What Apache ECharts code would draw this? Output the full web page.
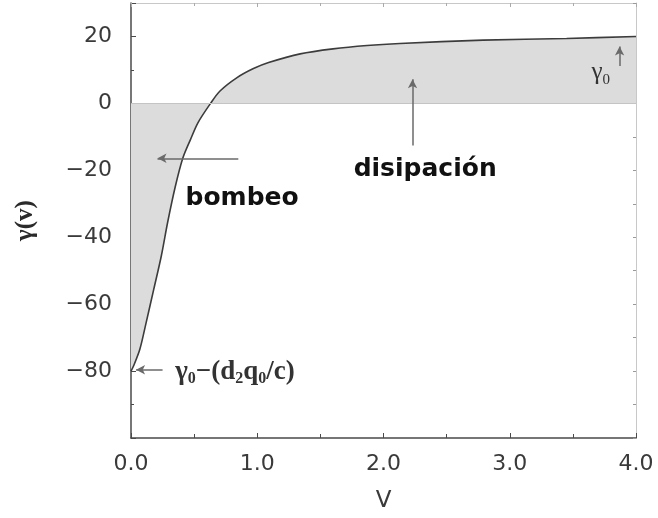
<!DOCTYPE html>
<html>
<head>
<meta charset="utf-8">
<script src="https://cdn.jsdelivr.net/npm/echarts@6/dist/echarts.min.js"></script>
<style>
  html, body { margin: 0; padding: 0; background: #fff; }
  #chart { width: 658px; height: 518px; }
</style>
</head>
<body>
<div id="chart"></div>
<script>
// gamma(v) curve: pumping region (negative) and dissipation region (positive)
const vValues = [0, 0.02, 0.07, 0.12, 0.18, 0.24, 0.29, 0.35, 0.41, 0.47, 0.53, 0.63, 0.705,
                 0.84, 0.97, 1.09, 1.34, 1.6, 1.87, 2.13, 2.79, 3.45, 4.0];
const gammaValues = [-80, -78.5, -73.5, -65.5, -55.6, -45.6, -35.6, -25.0, -16.4, -10.9, -5.8, 0, 3.7,
                     7.7, 10.4, 12.2, 14.8, 16.3, 17.3, 17.9, 18.9, 19.4, 20];
const xTicks = [0, 1, 2, 3, 4];
const yTicks = [-80, -60, -40, -20, 0, 20];

// arrow annotations: [start, end] in data units
const arrowBombeo = [[0.85, -16.4], [0.21, -16.4]];
const arrowDisipacion = [[2.23, -12.6], [2.23, 7.2]];
const arrowGamma0 = [[3.87, 11.2], [3.87, 17.0]];
const arrowIntercept = [[0.25, -79.6], [0.04, -79.6]];

const curve = vValues.map((v, i) => [v, gammaValues[i]]);

const chart = echarts.init(document.getElementById('chart'));

const tickFont = { fontFamily: 'DejaVu Sans', fontSize: 22, color: '#3a3a3a' };

function arrowPair(p) {
  return [{ coord: p[0] }, { coord: p[1] }];
}

chart.setOption({
  animation: false,
  backgroundColor: '#ffffff',
  grid: { left: 131, right: 22, top: 3, bottom: 80, containLabel: false, outerBoundsMode: 'none' },
  xAxis: [
    {
      type: 'value', min: 0, max: 4, interval: 1,
      name: 'V', nameLocation: 'middle', nameGap: 52,
      nameTextStyle: { fontFamily: 'DejaVu Sans', fontSize: 23, color: '#3a3a3a' },
      axisLine: { show: true, onZero: false, lineStyle: { color: '#4a4a4a', width: 1.5 } },
      axisTick: { show: true, inside: true, length: 5, lineStyle: { color: '#4a4a4a' } },
      minorTick: { show: true, splitNumber: 2, length: 4, lineStyle: { color: '#4a4a4a' } },
      splitLine: { show: false },
      axisLabel: Object.assign({ margin: 15, formatter: v => xTicks.includes(v) ? v.toFixed(1) : '' }, tickFont)
    },
    {
      type: 'value', min: 0, max: 4, interval: 1, position: 'top',
      axisLine: { show: true, onZero: false, lineStyle: { color: '#c8c8c8', width: 1 } },
      axisTick: { show: true, inside: true, length: 4, lineStyle: { color: '#aaaaaa' } },
      minorTick: { show: true, splitNumber: 2, length: 3, lineStyle: { color: '#aaaaaa' } },
      splitLine: { show: false },
      axisLabel: { show: false }
    }
  ],
  yAxis: [
    {
      type: 'value', min: -100, max: 30, interval: 20,
      name: 'γ(v)', nameLocation: 'middle', nameGap: 93, nameRotate: 90,
      nameTextStyle: { fontFamily: 'Liberation Serif', fontWeight: 'bold', fontSize: 25, color: '#2a2a2a' },
      axisLine: { show: true, onZero: false, lineStyle: { color: '#4a4a4a', width: 1.5 } },
      axisTick: { show: true, inside: true, length: 5, lineStyle: { color: '#4a4a4a' } },
      minorTick: { show: true, splitNumber: 2, length: 3, lineStyle: { color: '#4a4a4a' } },
      splitLine: { show: false },
      axisLabel: Object.assign({
        margin: 19,
        formatter: v => yTicks.includes(v) ? (v < 0 ? '\u2212' + Math.abs(v) : String(v)) : ''
      }, tickFont)
    },
    {
      type: 'value', min: -100, max: 30, interval: 20, position: 'right',
      axisLine: { show: true, onZero: false, lineStyle: { color: '#c8c8c8', width: 1 } },
      axisTick: { show: true, inside: true, length: 3, lineStyle: { color: '#999999' } },
      minorTick: { show: true, splitNumber: 2, length: 3, lineStyle: { color: '#999999' } },
      splitLine: { show: false },
      axisLabel: { show: false }
    }
  ],
  series: [
    {
      type: 'line',
      data: curve,
      smooth: 0.3,
      showSymbol: false,
      lineStyle: { color: '#3c3c3c', width: 1.6 },
      areaStyle: { color: '#dcdcdd', opacity: 1, origin: 0 },
      z: 3,
      markLine: {
        silent: true,
        symbol: ['none', 'none'],
        label: { show: false },
        lineStyle: { color: '#c4c4c4', width: 1, type: 'solid' },
        data: [{ yAxis: 0 }]
      }
    },
    {
      type: 'line',
      data: [],
      markLine: {
        silent: true,
        symbol: ['none', 'arrow'],
        symbolSize: [7, 9],
        label: { show: false },
        lineStyle: { color: '#6a6a6a', width: 1.5, type: 'solid' },
        data: [arrowBombeo, arrowDisipacion, arrowGamma0, arrowIntercept].map(arrowPair)
      },
      z: 4
    }
  ]
});

// text annotations anchored in data coordinates
function px(pt) { return chart.convertToPixel({ gridIndex: 0 }, pt); }
const pB = px([0.88, -28.4]);
const pD = px([2.33, -19.7]);
const pG = px([3.72, 9.3]);
const pI = px([0.35, -80]);

chart.setOption({
  graphic: [
    { type: 'text', x: pB[0], y: pB[1], z: 10,
      style: { text: 'bombeo', fontFamily: 'DejaVu Sans', fontWeight: 'bold', fontSize: 25,
               fill: '#111', align: 'center', verticalAlign: 'middle' } },
    { type: 'text', x: pD[0], y: pD[1], z: 10,
      style: { text: 'disipación', fontFamily: 'DejaVu Sans', fontWeight: 'bold', fontSize: 25,
               fill: '#111', align: 'center', verticalAlign: 'middle' } },
    { type: 'text', x: pG[0], y: pG[1], z: 10,
      style: { text: '{g|γ}{s|0}', align: 'center', verticalAlign: 'middle', fill: '#333',
               rich: {
                 g: { fontFamily: 'Liberation Serif', fontSize: 25, fill: '#333', lineHeight: 26, verticalAlign: 'bottom' },
                 s: { fontFamily: 'Liberation Serif', fontSize: 15, fill: '#333', lineHeight: 26, verticalAlign: 'bottom', padding: [0, 0, -2, 0] }
               } } },
    { type: 'text', x: pI[0], y: pI[1], z: 10,
      style: { text: '{g|γ}{s|0}{g|\u2212(d}{s|2}{g|q}{s|0}{g|/c)}', align: 'left', verticalAlign: 'middle', fill: '#333',
               rich: {
                 g: { fontFamily: 'Liberation Serif', fontWeight: 'bold', fontSize: 27, fill: '#333', lineHeight: 28, verticalAlign: 'bottom' },
                 s: { fontFamily: 'Liberation Serif', fontWeight: 'bold', fontSize: 16, fill: '#333', lineHeight: 28, verticalAlign: 'bottom', padding: [0, 0, -2, 0] }
               } } }
  ]
});
</script>
</body>
</html>
